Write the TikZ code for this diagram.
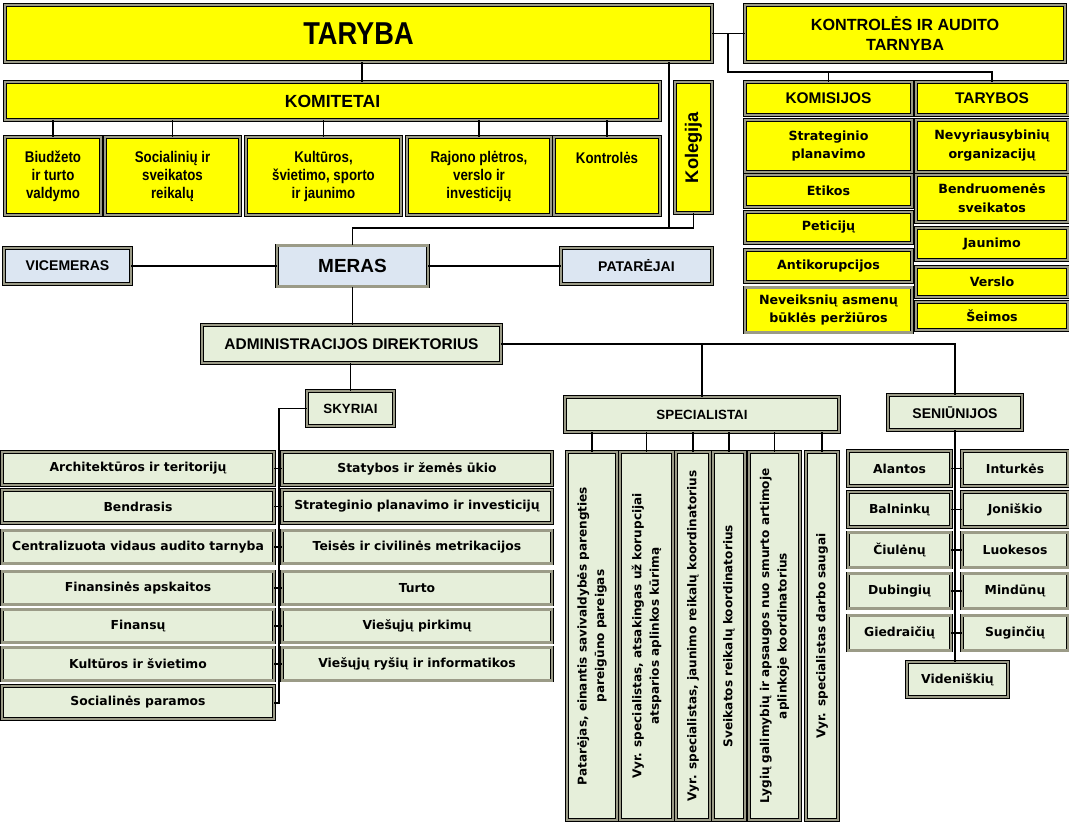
\documentclass[tikz,border=0pt]{standalone}
\usepackage{fontspec}
\setmainfont{Liberation Sans}
\newfontfamily\narrowfont[FakeStretch=0.86]{Liberation Sans}
\newfontfamily\dvfont{DejaVu Sans}

\definecolor{yel}{HTML}{FFFF00}
\definecolor{lblue}{HTML}{DCE6F2}
\definecolor{lgreen}{HTML}{E6EFDA}
\definecolor{framegray}{RGB}{155,155,135}

\tikzset{
	box/.style={draw=black, line width=0.5pt, double=framegray, double distance=1.7pt, inner sep=1pt, align=center, text=black},
	ybox/.style={box, fill=yel},
	bbox/.style={box, fill=lblue},
	gbox/.style={box, fill=lgreen},
	wh/.style 2 args={minimum width=#1*0.025cm, minimum height=#2*0.025cm},
	sub/.style={ybox, font=\narrowfont\bfseries\fontsize{11}{12.8}\selectfont},
	yitem/.style={ybox, font=\dvfont\bfseries\fontsize{9}{13.5}\selectfont},
	item/.style={gbox, font=\dvfont\bfseries\fontsize{8.8}{11}\selectfont},
	spec/.style={gbox, rotate=90, font=\dvfont\bfseries\fontsize{8.6}{12.5}\selectfont},
	link/.style={line width=1.4pt}
}

\begin{document}
\begin{tikzpicture}[x=0.025cm, y=-0.025cm]
	\useasboundingbox (0,0) rectangle (1069,824);

	\node[ybox, wh={707}{57}, font=\narrowfont\bfseries\fontsize{22.5}{26}\selectfont] (taryba) at (358.5,33.5) {TARYBA};
	\node[ybox, wh={320}{57}, font=\bfseries\fontsize{11.5}{14}\selectfont] (kontrole) at (905,33.5) {KONTROLĖS IR AUDITO\\TARNYBA};
	\node[ybox, wh={655}{38}, font=\bfseries\fontsize{12.5}{15}\selectfont] (komitetai) at (332.5,101) {KOMITETAI};
	\node[sub, wh={96}{78}] (biudzeto) at (53,176) {Biudžeto\\ir turto\\valdymo};
	\node[sub, wh={135}{78}] (socialiniu) at (172.5,176) {Socialinių ir\\sveikatos\\reikalų};
	\node[sub, wh={155}{78}] (kulturos) at (323.5,176) {Kultūros,\\švietimo, sporto\\ir jaunimo};
	\node[sub, wh={144}{78}] (rajono) at (479,176) {Rajono plėtros,\\verslo ir\\investicijų};
	\node[sub, wh={106}{78}] (kontroles) at (607,176) {Kontrolės\\~\\~};
	\node[ybox, wh={131}{37}, rotate=90, font=\bfseries\fontsize{13}{15}\selectfont] (kolegija) at (693.5,147.5) {Kolegija};

	\node[ybox, wh={167}{33}, font=\bfseries\fontsize{11}{13}\selectfont] (komisijos) at (828.5,98.5) {KOMISIJOS};
	\node[ybox, wh={152}{33}, font=\bfseries\fontsize{11}{13}\selectfont] (tarybos) at (992,98.5) {TARYBOS};
	\node[yitem, wh={167}{52}] (strateginio) at (828.5,146) {Strateginio\\planavimo};
	\node[yitem, wh={167}{32}] (etikos) at (828.5,191) {Etikos};
	\node[yitem, wh={167}{31}] (peticiju) at (828.5,227.5) {Peticijų};
	\node[yitem, wh={167}{32}] (antikorupcijos) at (828.5,266) {Antikorupcijos};
	\node[yitem, wh={167}{45}] (neveiksniu) at (828.5,310) {Neveiksnių asmenų\\būklės peržiūros};
	\node[yitem, wh={152}{52}] (nvo) at (992,146) {Nevyriausybinių\\organizacijų};
	\node[yitem, wh={152}{47}] (bendruomenes) at (992,198.5) {Bendruomenės\\sveikatos};
	\node[yitem, wh={152}{32}] (jaunimo) at (992,244) {Jaunimo};
	\node[yitem, wh={152}{30}] (verslo) at (992,282) {Verslo};
	\node[yitem, wh={152}{28}] (seimos) at (992,316) {Šeimos};

	\node[bbox, wh={127}{36}, font=\bfseries\fontsize{10}{12}\selectfont] (vicemeras) at (67.5,266) {VICEMERAS};
	\node[bbox, wh={151}{41}, font=\bfseries\fontsize{13.5}{16}\selectfont] (meras) at (352.5,266) {MERAS};
	\node[bbox, wh={151}{36}, font=\bfseries\fontsize{10}{12}\selectfont] (patarejai) at (636.5,266) {PATARĖJAI};
	\node[gbox, wh={299}{38}, font=\bfseries\fontsize{11}{13}\selectfont] (direktorius) at (351.5,344) {ADMINISTRACIJOS DIREKTORIUS};
	\node[gbox, wh={87}{35}, font=\bfseries\fontsize{9.5}{11}\selectfont] (skyriai) at (350.5,408.5) {SKYRIAI};
	\node[gbox, wh={274}{35}, font=\bfseries\fontsize{9.5}{11}\selectfont] (specialistai) at (702,414.5) {SPECIALISTAI};
	\node[gbox, wh={134}{35}, font=\bfseries\fontsize{10}{12}\selectfont] (seniunijos) at (955,412.5) {SENIŪNIJOS};

	\foreach \y/\txt [count=\i] in {468.5/Architektūros ir teritorijų, 506.5/Bendrasis, 547/Centralizuota vidaus audito tarnyba, 588/Finansinės apskaitos, 626/Finansų, 664/Kultūros ir švietimo, 702.5/Socialinės paramos}
		\node[item, wh={272}{33}] (L\i) at (138,\y) {\txt};
	\foreach \y/\txt [count=\i] in {468.5/Statybos ir žemės ūkio, 506.5/Strateginio planavimo ir investicijų, 547/Teisės ir civilinės metrikacijos, 588/Turto, 626/Viešųjų pirkimų, 664/Viešųjų ryšių ir informatikos}
		\node[item, wh={270}{33}] (R\i) at (417,\y) {\txt};

	\foreach \x/\bw/\txt [count=\i] in {592/50/{Patarėjas, einantis savivaldybės parengties\\pareigūno pareigas}, 646.5/53/{Vyr. specialistas, atsakingas už korupcijai\\atsparios aplinkos kūrimą}, 693/34/{Vyr. specialistas, jaunimo reikalų koordinatorius}, 729/32/{Sveikatos reikalų koordinatorius}, 774.5/51/{Lygių galimybių ir apsaugos nuo smurto artimoje\\aplinkoje koordinatorius}, 822/32/{Vyr. specialistas darbo saugai}}
		\node[spec, wh={368}{\bw}] (sp\i) at (\x,636) {\txt};

	\foreach \y/\a/\b [count=\i] in {468.5/Alantos/Inturkės, 509.5/Balninkų/Joniškio, 550/Čiulėnų/Luokesos, 591/Dubingių/Mindūnų, 633/Giedraičių/Suginčių}{
		\node[item, wh={103}{35}] (SL\i) at (899.5,\y) {\a};
		\node[item, wh={106}{35}] (SR\i) at (1015,\y) {\b};
	}
	\node[item, wh={101}{35}] (videniskiu) at (957.5,679.5) {Videniškių};

	\draw[link] (taryba.south -| 362,0) -- (komitetai.north -| 362,0);
	\foreach \n in {biudzeto,socialiniu,kulturos,rajono,kontroles}
		\draw[link] (komitetai.south -| \n.north) -- (\n.north);
	\draw[link] (taryba.east) -- (kontrole.west);
	\coordinate (ksplit) at (728,72);
	\draw[link] (taryba.east -| ksplit) -- (ksplit) -| (tarybos.north);
	\draw[link] (ksplit) -| (komisijos.north);
	\coordinate (mjoin) at (669,228);
	\draw[link] (taryba.south -| mjoin) -- (mjoin) -| (meras.north);
	\draw[link] (kolegija.west) |- (mjoin);
	\draw[link] (meras.west) -- (vicemeras.east);
	\draw[link] (meras.east) -- (patarejai.west);
	\draw[link] (meras.south) -- (direktorius.north -| meras.south);
	\draw[link] (direktorius.south -| skyriai.north) -- (skyriai.north);
	\coordinate (skline) at (279,408.5);
	\draw[link] (skyriai.west) -- (skline) |- (L7.east);
	\foreach \i in {1,...,6}
		\draw[link] (L\i.east) -- (R\i.west);
	\draw[link] (direktorius.east) -| (seniunijos.north);
	\draw[link] (direktorius.east -| specialistai.north) -- (specialistai.north);
	\foreach \i in {1,...,6}
		\draw[link] (specialistai.south -| sp\i.east) -- (sp\i.east);
	\draw[link] (seniunijos.south) -- (videniskiu.north -| seniunijos.south);
	\foreach \i in {1,...,5}
		\draw[link] (SL\i.east) -- (SR\i.west);
\end{tikzpicture}
\end{document}
